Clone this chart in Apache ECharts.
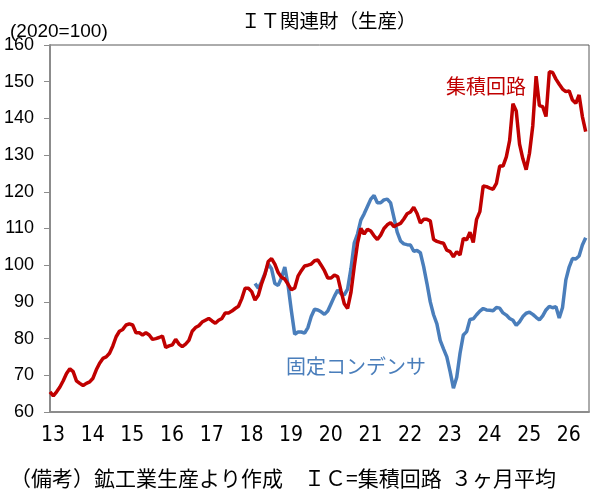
<!DOCTYPE html>
<html>
<head>
<meta charset="utf-8">
<script src="https://cdn.jsdelivr.net/npm/echarts@6/dist/echarts.min.js"></script>
<style>
  html, body { margin: 0; padding: 0; background: #fff; }
  #chart { width: 598px; height: 492px; }
</style>
</head>
<body>
<div id="chart"></div>
<script>
// 年ラベル（横軸）
const yearLabels = ['13', '14', '15', '16', '17', '18', '19', '20', '21', '22', '23', '24', '25', '26'];

// 集積回路（3ヶ月平均, 2020=100）2013年1月～
const icValues = [
    65.5, 64.4, 65.5, 66.8, 68.5, 70.5, 71.8, 71.0, 68.5, 67.8, 67.2, 67.8,
    68.2, 69.2, 71.5, 73.3, 74.6, 75.0, 76.0, 78.0, 80.5, 82.0, 82.5, 83.7,
    84.0, 83.7, 81.6, 81.6, 81.0, 81.6, 81.0, 79.8, 80.0, 80.3, 80.7, 77.6,
    78.0, 78.3, 79.8, 78.5, 77.8, 78.5, 79.5, 82.0, 83.0, 83.5, 84.5, 85.0,
    85.5, 84.8, 84.2, 85.0, 85.5, 87.0, 87.0, 87.5, 88.2, 88.8, 90.9, 93.7,
    93.7, 92.8, 90.5, 91.8, 95.0, 97.5, 101.0, 101.8, 100.3, 98.0, 96.7, 96.2,
    94.8, 93.3, 93.8, 97.0, 98.5, 99.8, 100.0, 100.3, 101.2, 101.4, 100.0, 98.5,
    96.5, 96.5, 97.3, 96.9, 93.0, 89.5, 88.2, 92.5, 99.6, 106.0, 110.0, 108.5,
    109.8, 109.3, 108.0, 107.0, 108.2, 110.0, 111.0, 111.6, 110.5, 111.0, 111.4, 112.6,
    114.0, 114.5, 115.8, 114.1, 111.5, 112.5, 112.5, 112.1, 107.0, 106.5, 106.2, 106.0,
    104.1, 103.7, 102.3, 103.7, 102.8, 107.3, 106.9, 109.0, 106.2, 112.5, 114.6, 121.6,
    121.4, 121.0, 120.7, 122.3, 127.0, 127.0, 129.5, 134.0, 144.0, 142.0, 133.0, 129.0,
    126.0, 130.5, 138.0, 151.5, 143.5, 143.2, 140.5, 152.7, 152.5, 150.7, 149.3, 148.0,
    147.3, 147.5, 145.0, 144.1, 146.4, 140.5, 136.4
];

// 固定コンデンサ（3ヶ月平均, 2020=100）2018年3月～
const capStart = 62;
const capValues = [
    95.0, 93.7, 95.5, 97.8, 100.3, 99.0, 95.0, 94.5, 96.5, 99.5,
    94.5, 87.5, 81.2, 81.8, 81.8, 81.5, 83.0, 86.0, 88.0, 87.8, 87.3, 86.6,
    87.5, 89.5, 91.5, 93.2, 92.2, 91.9, 93.5, 99.0, 106.0, 108.5, 112.3, 114.0,
    116.0, 118.0, 119.0, 117.0, 117.0, 117.8, 118.0, 117.0, 113.0, 109.0, 106.6, 105.8,
    105.6, 105.5, 103.8, 104.0, 103.4, 99.6, 95.0, 90.0, 86.5, 84.0, 79.5, 77.2,
    75.0, 71.0, 66.5, 69.5, 76.0, 81.0, 81.9, 85.2, 85.4, 86.5, 87.5, 88.2,
    87.8, 87.7, 87.6, 88.5, 88.3, 87.0, 86.4, 85.5, 85.0, 83.6, 84.6, 86.0,
    86.9, 87.2, 86.6, 85.8, 85.1, 86.2, 87.8, 88.8, 88.4, 88.7, 85.6, 88.5,
    96.0, 99.5, 101.8, 101.7, 102.5, 105.5, 107.5
];

// 縦軸の目盛
const yMin = 60;
const yMax = 160;
const yStep = 10;

// 月次カテゴリ（各年の1月に年を表示）。末尾に1か月分の余白を置く
const categories = [];
yearLabels.forEach(y => {
    for (let m = 1; m <= 12; m++) {
        categories.push(m === 1 ? y : y + '/' + m);
    }
});
categories.length = icValues.length + 1;

const capSeries = categories.map((c, i) => {
    const k = i - capStart;
    return k >= 0 && k < capValues.length ? capValues[k] : null;
});

const chart = echarts.init(document.getElementById('chart'));

const option = {
    animation: false,
    title: {
        text: 'ＩＴ関連財（生産）',
        left: 236,
        top: 6,
        textStyle: {
            fontFamily: 'Noto Sans CJK JP',
            fontSize: 19.5,
            fontWeight: 'normal',
            color: '#000'
        }
    },
    grid: {
        left: 50,
        right: 9,
        top: 45,
        bottom: 80,
        show: true,
        borderColor: '#595959',
        borderWidth: 1
    },
    xAxis: {
        type: 'category',
        data: categories,
        boundaryGap: false,
        axisLine: { lineStyle: { color: '#8c8c8c', width: 2 } },
        axisTick: { show: false },
        splitLine: { show: false },
        axisLabel: {
            interval: 11,
            margin: 13,
            padding: [0, 0, 0, 6],
            fontFamily: 'Liberation Sans Narrow, DejaVu Sans Condensed',
            fontSize: 21,
            color: '#000',
            formatter: v => v.indexOf('/') < 0 ? v : ''
        }
    },
    yAxis: {
        type: 'value',
        min: yMin,
        max: yMax,
        interval: yStep,
        axisLine: { show: true, lineStyle: { color: '#8c8c8c', width: 2 } },
        axisTick: { show: true, inside: false, length: 6, lineStyle: { color: '#8c8c8c', width: 1 } },
        splitLine: { show: false },
        axisLabel: {
            margin: 16,
            fontFamily: 'Liberation Sans',
            fontSize: 18,
            color: '#000'
        }
    },
    series: [
        {
            name: '固定コンデンサ',
            type: 'line',
            data: capSeries,
            showSymbol: false,
            connectNulls: false,
            lineStyle: { color: '#4A7EBB', width: 3.5 },
            itemStyle: { color: '#4A7EBB' }
        },
        {
            name: '集積回路',
            type: 'line',
            data: icValues,
            showSymbol: false,
            lineStyle: { color: '#C00000', width: 3.5 },
            itemStyle: { color: '#C00000' }
        }
    ],
    graphic: [
        {
            type: 'text',
            left: 10,
            top: 22,
            style: { text: '(2020=100)', fontFamily: 'Liberation Sans', fontSize: 19, fill: '#000' }
        },
        {
            type: 'text',
            left: 446,
            top: 76,
            style: { text: '集積回路', fontFamily: 'Noto Sans CJK JP', fontSize: 20, fill: '#C00000' }
        },
        {
            type: 'text',
            left: 286,
            top: 356,
            style: { text: '固定コンデンサ', fontFamily: 'Noto Sans CJK JP', fontSize: 20, fill: '#4A7EBB' }
        },
        {
            type: 'text',
            left: 10,
            top: 468,
            style: {
                text: '（備考）鉱工業生産より作成　ＩＣ=集積回路  ３ヶ月平均',
                fontFamily: 'Noto Sans CJK JP',
                fontSize: 21,
                fill: '#000'
            }
        }
    ]
};

chart.setOption(option);

window.addEventListener('resize', function() {
    chart.resize();
});
</script>
</body>
</html>
